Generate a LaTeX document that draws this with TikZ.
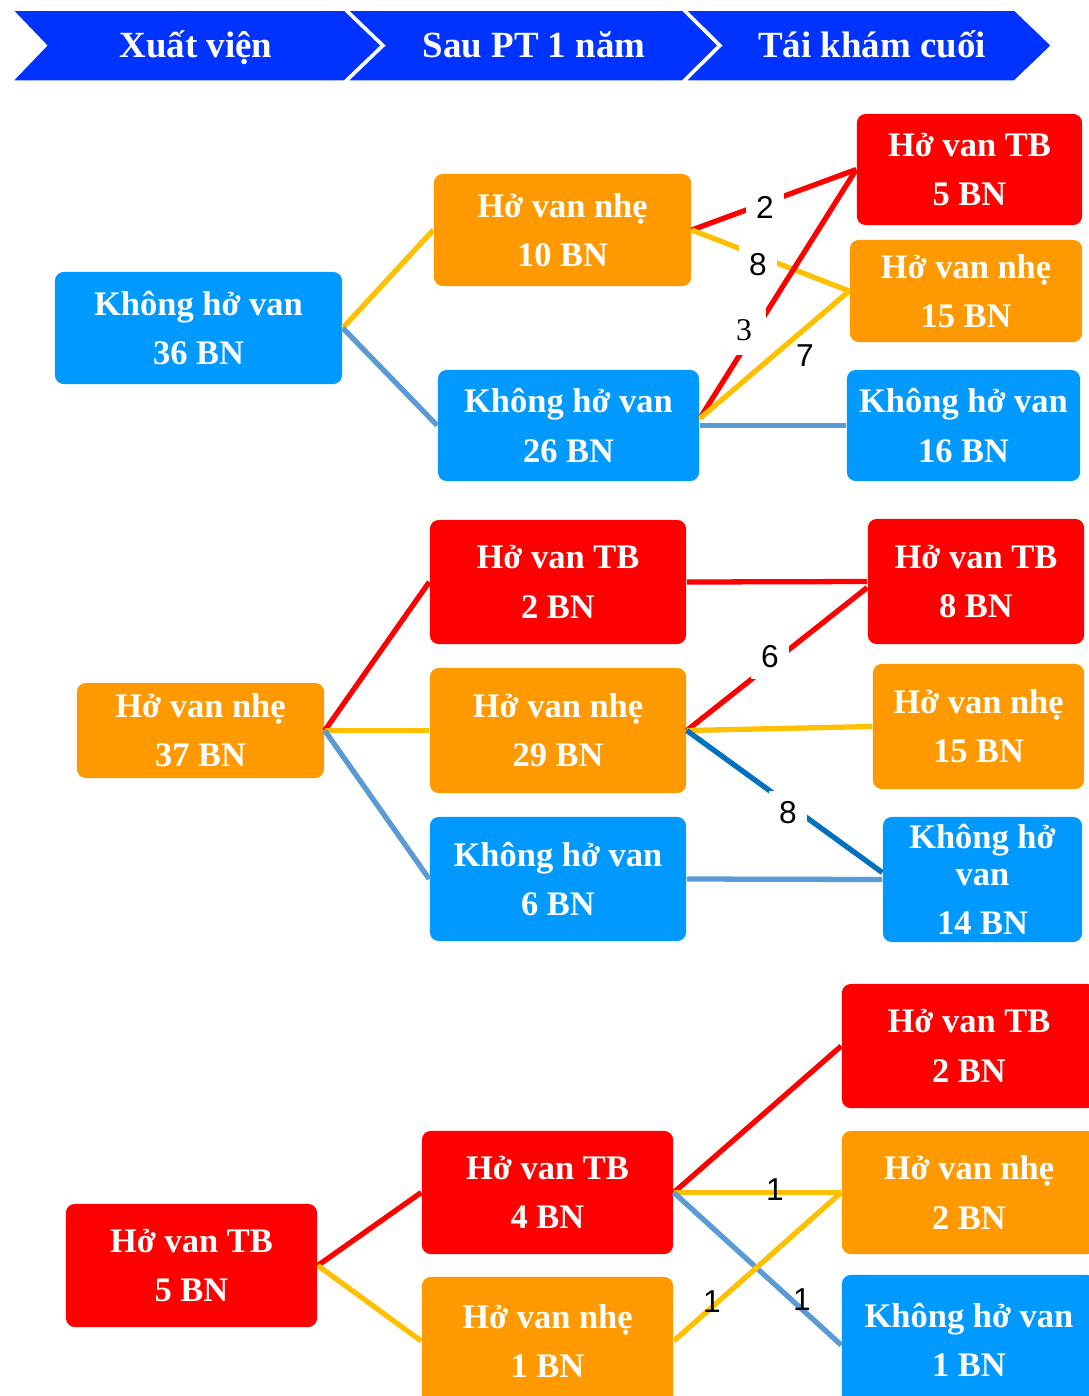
\documentclass[tikz,border=0pt]{standalone}
\usepackage{fontspec}
\setmainfont{Liberation Serif}
\setsansfont{Liberation Sans}
\definecolor{hdrblue}{HTML}{0033FF}
\definecolor{cnone}{HTML}{0099FF}
\definecolor{cmild}{HTML}{FF9900}
\definecolor{cmod}{HTML}{FF0000}
\definecolor{lyel}{HTML}{FFC000}
\definecolor{lsteel}{HTML}{5B9BD5}
\definecolor{ldark}{HTML}{0070C0}
\tikzset{
  box/.style={rounded corners=2.5pt, text=white, align=center, inner sep=0pt,
    font=\bfseries\fontsize{9.8}{14}\selectfont},
  noreg/.style={box, fill=cnone},
  mildreg/.style={box, fill=cmild},
  modreg/.style={box, fill=cmod},
  hdr/.style={text=white, anchor=base, font=\bfseries\fontsize{10.5}{12}\selectfont},
  ln/.style={line width=1.5pt},
  num/.style={font=\sffamily\fontsize{9}{9}\selectfont, inner sep=1pt},
  gap/.style={num, fill=white, inner sep=3pt}
}
\begin{document}
\begin{tikzpicture}[x=0.01cm, y=-0.01cm]
	\useasboundingbox (0,0) rectangle (1089,1396);
	
	% header
	\filldraw[fill=hdrblue, draw=white, line width=1pt] (10,9) -- (345,9) -- (383,45.5) -- (345,82) -- (10,82) -- (45,45.5) -- cycle;
	\filldraw[fill=hdrblue, draw=white, line width=1pt] (345,9) -- (683,9) -- (720,45.5) -- (683,82) -- (345,82) -- (383,45.5) -- cycle;
	\filldraw[fill=hdrblue, draw=white, line width=1pt] (683,9) -- (1015,9) -- (1053,45.5) -- (1015,82) -- (683,82) -- (720,45.5) -- cycle;
	\node[hdr] (h1) at (196,57) {Xuất viện};
	\node[hdr] (h2) at (534,57) {Sau PT 1 năm};
	\node[hdr] (h3) at (872,57) {Tái khám cuối};
	
	% group 1
	\node[noreg, minimum width=2.87cm, minimum height=1.12cm] (a1) at (198.5,328) {Không hở van\\36 BN};
	\node[mildreg, minimum width=2.57cm, minimum height=1.12cm] (b1) at (562.5,230) {Hở van nhẹ\\10 BN};
	\node[noreg, minimum width=2.61cm, minimum height=1.11cm] (b2) at (568.5,425.5) {Không hở van\\26 BN};
	\node[modreg, minimum width=2.25cm, minimum height=1.11cm] (c1) at (969.5,169.5) {Hở van TB\\5 BN};
	\node[mildreg, minimum width=2.32cm, minimum height=1.02cm] (c2) at (966,291) {Hở van nhẹ\\15 BN};
	\node[noreg, minimum width=2.33cm, minimum height=1.11cm] (c3) at (963.5,425.5) {Không hở van\\16 BN};
	
	\draw[ln, lyel] (a1.east) -- (b1.west);
	\draw[ln, lsteel] (a1.east) -- (b2.west);
	\draw[ln, cmod] (b1.east) -- (c1.west);
	\draw[ln, lyel] (b1.east) -- (c2.west);
	\draw[ln, cmod] ([yshift=0.07cm]b2.east) -- (c1.west);
	\draw[ln, lyel] ([yshift=0.07cm]b2.east) -- (c2.west);
	\draw[ln, lsteel] (b2.east) -- (c3.west);
	\node[gap] (n2) at (765,207) {2};
	\node[gap] (n8) at (758,265) {8};
	\node[gap, font=\fontsize{9}{9}\selectfont, inner sep=4pt] (n3) at (744,330) {3};
	\node[num] (n7) at (805,356) {7};
	
	% group 2
	\node[mildreg, minimum width=2.47cm, minimum height=0.95cm] (a2) at (200.5,730.5) {Hở van nhẹ\\37 BN};
	\node[modreg, minimum width=2.56cm, minimum height=1.24cm] (b3) at (558,582) {Hở van TB\\2 BN};
	\node[mildreg, minimum width=2.56cm, minimum height=1.25cm] (b4) at (558,730.5) {Hở van nhẹ\\29 BN};
	\node[noreg, minimum width=2.56cm, minimum height=1.24cm] (b5) at (558,879) {Không hở van\\6 BN};
	\node[modreg, minimum width=2.16cm, minimum height=1.25cm] (c4) at (976,581.5) {Hở van TB\\8 BN};
	\node[mildreg, minimum width=2.11cm, minimum height=1.25cm] (c5) at (978.5,726.5) {Hở van nhẹ\\15 BN};
	\node[noreg, minimum width=1.99cm, minimum height=1.25cm] (c6) at (982.5,879.5) {Không hở\\[-3.5pt]van\\14 BN};
	
	\draw[ln, cmod] (a2.east) -- (b3.west);
	\draw[ln, lyel] (a2.east) -- (b4.west);
	\draw[ln, lsteel] (a2.east) -- (b5.west);
	\draw[ln, cmod] (b3.east) -- (c4.west);
	\draw[ln, cmod] (b4.east) -- ([yshift=-0.06cm]c4.west);
	\draw[ln, lyel] (b4.east) -- (c5.west);
	\draw[ln, ldark] (b4.east) -- ([yshift=0.07cm]c6.west);
	\draw[ln, lsteel] (b5.east) -- (c6.west);
	\node[gap] (n6) at (770,657) {6};
	\node[gap] (n8b) at (788,813) {8};
	
	% group 3
	\node[modreg, minimum width=2.51cm, minimum height=1.23cm] (a3) at (191.5,1265.5) {Hở van TB\\5 BN};
	\node[modreg, minimum width=2.51cm, minimum height=1.23cm] (b6) at (547.5,1192.5) {Hở van TB\\4 BN};
	\node[mildreg, minimum width=2.51cm, minimum height=1.28cm] (b7) at (547.5,1341) {Hở van nhẹ\\1 BN};
	\node[modreg, minimum width=2.54cm, minimum height=1.24cm] (c7) at (969,1046) {Hở van TB\\2 BN};
	\node[mildreg, minimum width=2.54cm, minimum height=1.23cm] (c8) at (969,1192.5) {Hở van nhẹ\\2 BN};
	\node[noreg, minimum width=2.54cm, minimum height=1.30cm] (c9) at (969,1340) {Không hở van\\1 BN};
	
	\draw[ln, cmod] (a3.east) -- (b6.west);
	\draw[ln, lyel] (a3.east) -- (b7.west);
	\draw[ln, cmod] (b6.east) -- (c7.west);
	\draw[ln, lyel] (b6.east) -- (c8.west);
	\draw[ln, lsteel] (b6.east) -- ([yshift=-0.05cm]c9.west);
	\draw[ln, lyel] (b7.east) -- (c8.west);
	\node[num] (n1a) at (775,1190) {1};
	\node[num] (n1b) at (802,1300) {1};
	\node[num] (n1c) at (712,1302) {1};
\end{tikzpicture}
\end{document}
